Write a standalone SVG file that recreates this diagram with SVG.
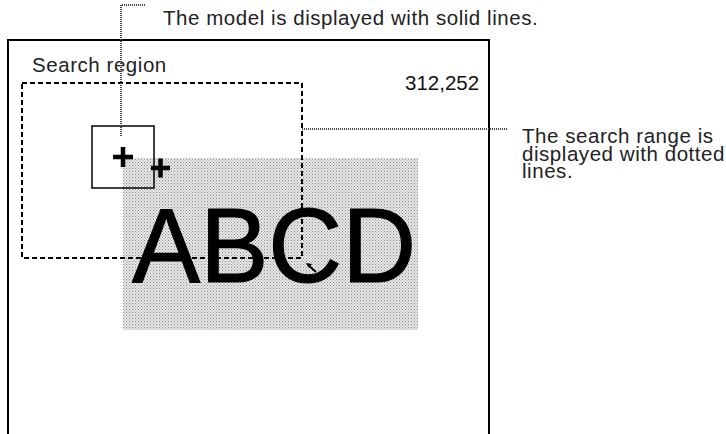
<svg xmlns="http://www.w3.org/2000/svg" width="726" height="434" viewBox="0 0 726 434">
<style>
.lbl{font-family:"Liberation Sans",Arial,Helvetica,sans-serif;font-size:20.5px;letter-spacing:0.55px;fill:#222}
.num{font-family:"Liberation Sans",Arial,Helvetica,sans-serif;font-size:20.5px;fill:#111}
.big{font-family:"Liberation Sans",Arial,Helvetica,sans-serif;font-size:105px;fill:#000;stroke:#000;stroke-width:1.2}
.lead{fill:none;stroke:#444;stroke-width:2;stroke-dasharray:1 1}
.dash{fill:none;stroke:#000;stroke-width:2;stroke-dasharray:5 3}
.cross{stroke:#000;stroke-width:4.5;fill:none}
</style>
<defs>
<pattern id="dots" width="3" height="3" patternUnits="userSpaceOnUse">
<rect width="3" height="3" fill="#e8e8e8"/>
<rect x="0" y="0" width="1" height="1" fill="#8a8a8a"/>
<rect x="1.5" y="1.5" width="1" height="1" fill="#9a9a9a"/>
</pattern>
</defs>
<rect width="726" height="434" fill="#fff"/>
<g id="screen">
<path d="M8 434 V40 H489 V434" fill="none" stroke="#000" stroke-width="2"/>
<rect x="123" y="158" width="295" height="172" fill="url(#dots)"/>
<text class="big" x="132" y="282" textLength="284" lengthAdjust="spacingAndGlyphs">ABCD</text>
<text class="num" x="405" y="90">312,252</text>
</g>
<g id="search-region">
<rect class="dash" x="22" y="83" width="280" height="175"/>
<text class="lbl" x="32" y="72">Search region</text>
</g>
<g id="model">
<rect x="92" y="126" width="62" height="62" fill="none" stroke="#000" stroke-width="1.5"/>
<path class="cross" d="M113 157 H133 M123 147 V167"/>
<path class="cross" d="M151 168 H170 M160.5 158.5 V177.5"/>
</g>
<g id="connectors">
<path class="lead" d="M145 5 H121 V137"/>
<path class="lead" d="M302 129 H508"/>
<path d="M316 272 L308 265" stroke="#000" stroke-width="2" fill="none"/>
<path d="M306 263 L312 264 L309 268 Z" fill="#000"/>
</g>
<g id="labels">
<text class="lbl" x="163" y="25">The model is displayed with solid lines.</text>
<text class="lbl" x="522" y="143"><tspan x="522" y="143">The search range is</tspan><tspan x="522" y="160.5">displayed with dotted</tspan><tspan x="522" y="178">lines.</tspan></text>
</g>
</svg>
